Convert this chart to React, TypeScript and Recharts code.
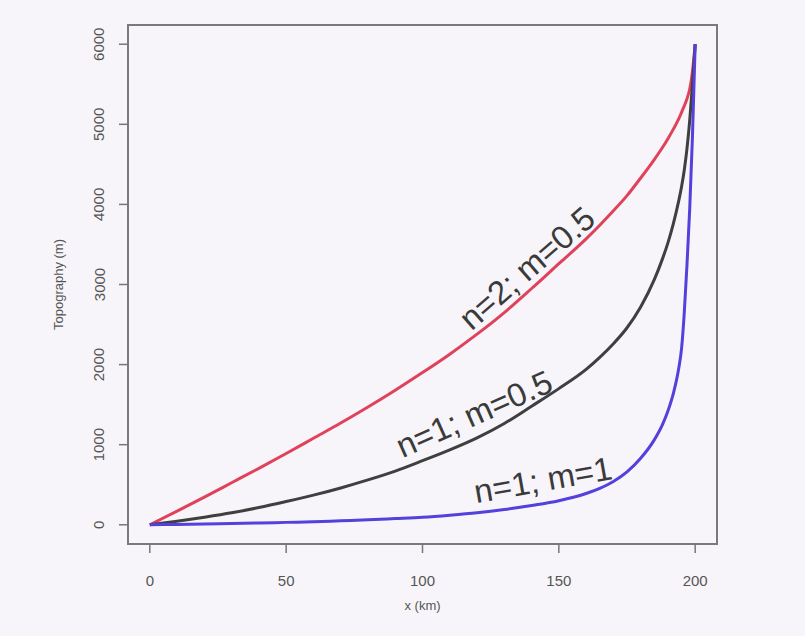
import React from 'react';
import { LineChart, Line, XAxis, YAxis, ReferenceArea, ReferenceDot, Label } from 'recharts';

// distance along the profile (km)
const xs = [0, 10, 20, 30, 40, 50, 60, 70, 80, 90, 100, 110, 120, 130, 140, 150, 160, 165, 170, 175, 180, 185, 188, 190, 192, 194, 195, 196, 197, 198, 199, 200];

// topography (m) for each case
const n2m05 = [0, 170, 345, 525, 705, 890, 1080, 1270, 1470, 1680, 1900, 2130, 2380, 2650, 2950, 3260, 3570, 3740, 3920, 4110, 4330, 4560, 4710, 4820, 4940, 5070, 5150, 5230, 5320, 5440, 5660, 6000];
const n1m05 = [0, 45, 95, 150, 215, 290, 370, 460, 560, 670, 800, 935, 1085, 1265, 1480, 1700, 1940, 2090, 2260, 2460, 2720, 3060, 3320, 3520, 3760, 4050, 4220, 4430, 4700, 5050, 5500, 6000];
const n1m1 = [0, 5, 10, 16, 22, 30, 38, 50, 62, 78, 95, 120, 150, 190, 240, 300, 390, 455, 540, 660, 830, 1060, 1250, 1420, 1640, 1960, 2200, 2650, 3250, 3950, 4850, 6000];

const xTicks = [0, 50, 100, 150, 200];
const yTicks = [0, 1000, 2000, 3000, 4000, 5000, 6000];

const curveLabels = [
  { text: 'n=2; m=0.5', x: 138.3, y: 3206, angle: -41 },
  { text: 'n=1; m=0.5', x: 118.9, y: 1385, angle: -24 },
  { text: 'n=1; m=1', x: 144.2, y: 561, angle: -10 },
];

const data = xs.map((x, i) => ({ x, a: n2m05[i], b: n1m05[i], c: n1m1[i] }));

const font = '"Liberation Sans", Arial, sans-serif';
const bg = '#f7f5f9';

const XTick = (p: any) => (
  <text x={p.x} y={p.y + 25} textAnchor="middle" dominantBaseline="central" fontSize={15} fill="#555" fontFamily={font}>
    {p.payload.value}
  </text>
);

const YTick = (p: any) => (
  <text
    x={p.x - 18}
    y={p.y}
    textAnchor="middle"
    dominantBaseline="central"
    fontSize={15}
    fill="#555"
    fontFamily={font}
    transform={`rotate(-90, ${p.x - 18}, ${p.y})`}
  >
    {p.payload.value}
  </text>
);

const CurveText = (text: string, angle: number) => (p: any) => (
  <text
    x={p.cx}
    y={p.cy}
    textAnchor="middle"
    dominantBaseline="central"
    fontSize={33}
    fill="#3a3a3a"
    fontFamily={font}
    transform={`rotate(${angle}, ${p.cx}, ${p.cy})`}
  >
    {text}
  </text>
);

export default function App() {
  return (
    <div style={{ position: 'absolute', left: 0, top: 0, width: 805, height: 636, background: bg }}>
      <LineChart width={805} height={636} data={data} margin={{ top: 25, right: 88, bottom: 32, left: 68 }}>
        <XAxis
          type="number"
          dataKey="x"
          domain={[-8, 208]}
          ticks={xTicks}
          axisLine={false}
          tickLine={{ stroke: '#777', strokeWidth: 1.5 }}
          tickSize={9}
          height={60}
          tick={XTick}
        >
          <Label
            content={(p: any) => (
              <text x={p.viewBox.x + p.viewBox.width / 2} y={p.viewBox.y + 61} textAnchor="middle" dominantBaseline="central" fontSize={13} fill="#555" fontFamily={font}>
                x (km)
              </text>
            )}
          />
        </XAxis>
        <YAxis
          type="number"
          domain={[-240, 6240]}
          ticks={yTicks}
          axisLine={false}
          tickLine={{ stroke: '#777', strokeWidth: 1.5 }}
          tickSize={9}
          width={60}
          tick={YTick}
        >
          <Label
            content={(p: any) => {
              const cx = p.viewBox.x - 10;
              const cy = p.viewBox.y + p.viewBox.height / 2;
              return (
                <text x={cx} y={cy} textAnchor="middle" dominantBaseline="central" fontSize={13} fill="#555" fontFamily={font} transform={`rotate(-90, ${cx}, ${cy})`}>
                  Topography (m)
                </text>
              );
            }}
          />
        </YAxis>
        <ReferenceArea x1={-8} x2={208} y1={-240} y2={6240} fill="none" stroke="#7a7a7a" strokeWidth={2} ifOverflow="visible" />
        <Line type="monotone" dataKey="a" stroke="#e0425c" strokeWidth={3} dot={false} isAnimationActive={false} />
        <Line type="monotone" dataKey="b" stroke="#3f3f3f" strokeWidth={3} dot={false} isAnimationActive={false} />
        <Line type="monotone" dataKey="c" stroke="#5440dc" strokeWidth={3} dot={false} isAnimationActive={false} />
        {curveLabels.map((l) => (
          <ReferenceDot key={l.text} x={l.x} y={l.y} r={0} shape={CurveText(l.text, l.angle)} ifOverflow="visible" />
        ))}
      </LineChart>
    </div>
  );
}
